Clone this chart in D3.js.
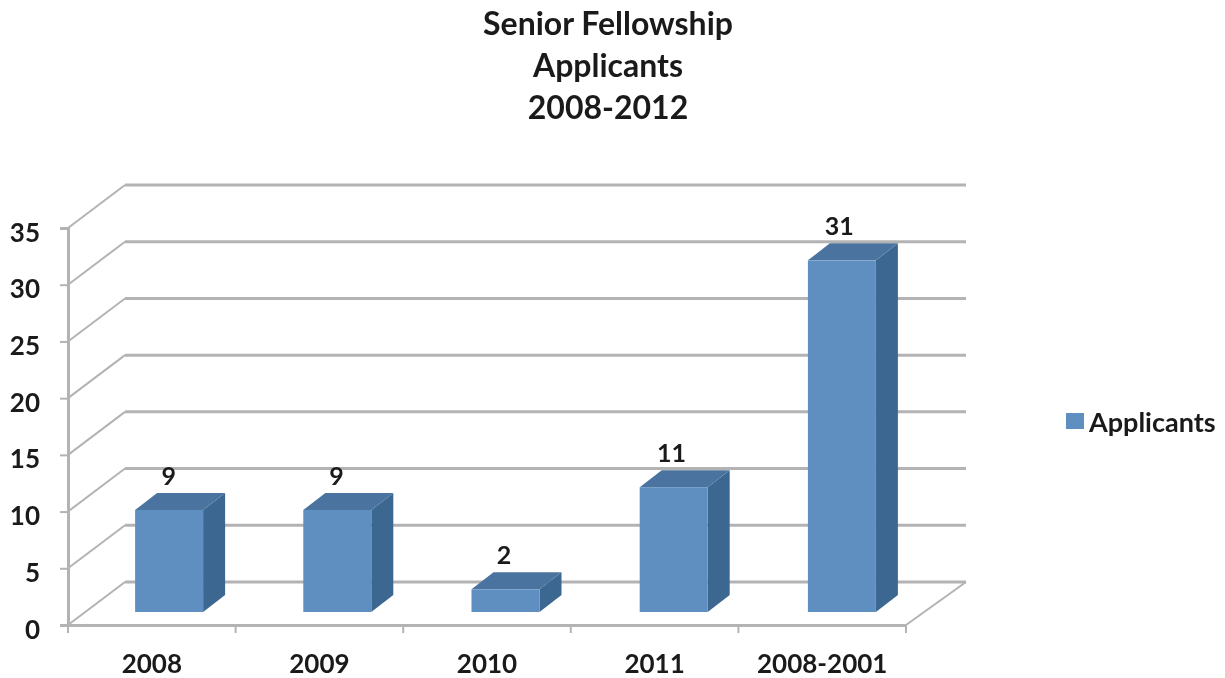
<!DOCTYPE html>
<html><head><meta charset="utf-8">
<script src="https://cdn.jsdelivr.net/npm/d3@7"></script>
<style>
html,body{margin:0;padding:0;background:#fff}
svg{display:block;filter:blur(0.6px)}
text{font-family:Lato,"Open Sans",sans-serif;font-weight:700;fill:#1a1a1a}
</style></head><body>
<script>
const categories=["2008","2009","2010","2011","2008-2001"];
const applicants=[9,9,2,11,31];
const yTicks=[0,5,10,15,20,25,30,35];
const titleLines=["Senior Fellowship","Applicants","2008-2012"];
const seriesName="Applicants";

const W=1225,H=678;
const svg=d3.select("body").append("svg").attr("width",W).attr("height",H);
const x=d3.scaleBand().domain(categories).range([68,906]);
const xBars=d3.scaleBand().domain(categories).range([85,926]);
const y=d3.scaleLinear().domain([0,35]).range([625,228]);
const depth={dx:57,dy:-43}, barDepth={dx:22,dy:-17};
const barLift=13, barW=68;
const grid="#b3b3b3";

// title
svg.append("g").selectAll("text").data(titleLines).join("text")
  .attr("x",608).attr("y",(d,i)=>35+i*41.8).attr("text-anchor","middle")
  .attr("font-size",32).text(d=>d);

// back wall gridlines and side-wall diagonals
const g=svg.append("g").attr("fill","none").attr("stroke",grid);
g.selectAll("line.back").data(yTicks).join("line").attr("class","back")
  .attr("x1",68+depth.dx).attr("x2",966)
  .attr("y1",d=>y(d)+depth.dy).attr("y2",d=>y(d)+depth.dy).attr("stroke-width",3);
g.selectAll("line.side").data(yTicks).join("line").attr("class","side")
  .attr("x1",68).attr("x2",68+depth.dx)
  .attr("y1",d=>y(d)).attr("y2",d=>y(d)+depth.dy).attr("stroke-width",2);
g.append("line").attr("x1",906).attr("y1",y(0)).attr("x2",966).attr("y2",y(0)+depth.dy).attr("stroke-width",2);

// axes
const yAxis=svg.append("g").attr("transform","translate(68,0)")
  .call(d3.axisLeft(y).tickValues(yTicks).tickSize(8).tickPadding(20));
const xAxis=svg.append("g").attr("transform",`translate(0,${y(0)})`)
  .call(d3.axisBottom(x).tickSize(0).tickPadding(29));
[yAxis,xAxis].forEach(a=>{
  a.selectAll(".domain").attr("stroke",grid).attr("stroke-width",3);
  a.selectAll("text").attr("font-size",26).attr("fill","#1a1a1a").attr("font-family","Lato,sans-serif");
});
yAxis.selectAll(".tick line").attr("stroke",grid).attr("stroke-width",2);
yAxis.selectAll(".tick text").attr("dy","0.5em");
xAxis.selectAll(".tick text").attr("dy","0.72em");
svg.append("g").selectAll("line").data([...categories.map(c=>x(c)),x.range()[1]]).join("line")
  .attr("x1",d=>d).attr("x2",d=>d).attr("y1",y(0)).attr("y2",y(0)+8)
  .attr("stroke",grid).attr("stroke-width",2);

// 3D bars
const bars=svg.append("g").selectAll("g").data(categories.map((c,i)=>({c,v:applicants[i]}))).join("g");
const cx=d=>xBars(d.c)+xBars.bandwidth()/2;
const barTop=d=>y(d.v)-barLift, barBot=()=>y(0)-barLift;
const pts=a=>a.map(p=>p.join(",")).join(" ");
bars.append("polygon").attr("fill","#3c6790").attr("points",d=>{
  const r=cx(d)+barW/2;
  return pts([[r,barTop(d)],[r+barDepth.dx,barTop(d)+barDepth.dy],[r+barDepth.dx,barBot()+barDepth.dy],[r,barBot()]]);
});
bars.append("polygon").attr("fill","#4a749f").attr("points",d=>{
  const l=cx(d)-barW/2,r=cx(d)+barW/2;
  return pts([[l,barTop(d)],[l+barDepth.dx,barTop(d)+barDepth.dy],[r+barDepth.dx,barTop(d)+barDepth.dy],[r,barTop(d)]]);
});
bars.append("rect").attr("fill","#5f8fc0")
  .attr("x",d=>cx(d)-barW/2).attr("width",barW)
  .attr("y",barTop).attr("height",d=>barBot()-barTop(d));
bars.append("text").attr("x",d=>x(d.c)+x.bandwidth()/2+17).attr("y",d=>barTop(d)+barDepth.dy-8)
  .attr("text-anchor","middle").attr("font-size",25).text(d=>d.v);

// legend
const lg=svg.append("g");
lg.append("rect").attr("x",1066).attr("y",413).attr("width",18).attr("height",16).attr("fill","#5f8fc0");
lg.append("text").attr("x",1089).attr("y",432).attr("font-size",27).text(seriesName);
</script>
</body></html>
